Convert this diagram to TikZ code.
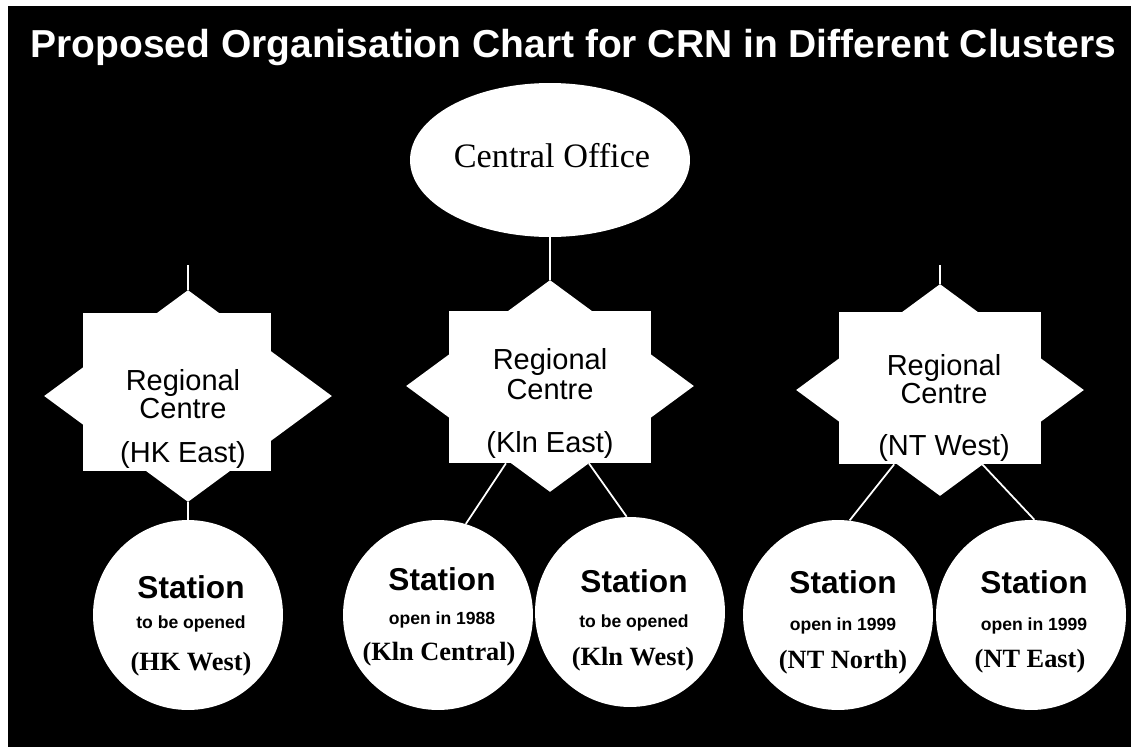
\documentclass[tikz,border=0pt]{standalone}
\usepackage{fontspec}
\setmainfont{Liberation Serif}
\setsansfont{Liberation Sans}
\usetikzlibrary{shapes.geometric}
\begin{document}
\begin{tikzpicture}[x=0.02cm,y=-0.02cm,
  title/.style={text=white,inner sep=0,anchor=base west,font=\sffamily\bfseries\fontsize{22.2}{26}\selectfont},
  office/.style={ellipse,fill=white,minimum width=5.6cm,minimum height=3.08cm,inner sep=0},
  sqbox/.style={rectangle,fill=white,minimum width=4.06cm,minimum height=3.04cm,inner sep=0},
  diabox/.style={diamond,fill=white,minimum width=5.76cm,minimum height=4.24cm,inner sep=0},
  stn/.style={circle,fill=white,minimum size=3.8cm,inner sep=0},
  link/.style={draw=white,line width=1pt},
  txt/.style={inner sep=0,anchor=base,text=black},
  officetxt/.style={txt,font=\rmfamily\fontsize{19.5}{22}\selectfont},
  regtxt/.style={txt,font=\sffamily\fontsize{16.5}{20}\selectfont},
  stbig/.style={txt,font=\sffamily\bfseries\fontsize{18}{21}\selectfont},
  stsmall/.style={txt,font=\sffamily\bfseries\fontsize{10}{12}\selectfont},
  stname/.style={txt,font=\rmfamily\bfseries\fontsize{15}{18}\selectfont}]
\useasboundingbox (0,0) rectangle (1131,747);
\fill[white] (0,0) rectangle (1131,747);
\fill[black] (8,6) rectangle (1131,747);

\node[title] (title) at (30,57) {Proposed Organisation Chart for CRN in Different Clusters};

% central office
\node[office] (co) at (550,160) {};
\node[officetxt] (cot) at (552,167) {Central Office};

% regional centres
\node[diabox] (hd) at (188,396) {};
\node[sqbox,minimum width=3.76cm,minimum height=3.18cm] (hs) at (177,392) {};
\node[diabox] (kd) at (550,386) {};
\node[sqbox] (ks) at (550,387) {};
\node[diabox] (nd) at (940,390) {};
\node[sqbox] (ns) at (940,388) {};

\node[regtxt] (ht1) at (183,390) {Regional};
\node[regtxt] (ht2) at (183,418) {Centre};
\node[regtxt] (ht3) at (183,462) {(HK East)};
\node[regtxt] (kt1) at (550,369) {Regional};
\node[regtxt] (kt2) at (550,399) {Centre};
\node[regtxt] (kt3) at (550,452) {(Kln East)};
\node[regtxt] (nt1) at (944,375) {Regional};
\node[regtxt] (nt2) at (944,403) {Centre};
\node[regtxt] (nt3) at (944,455) {(NT West)};

% stations
\node[stn] (hw) at (188,615) {};
\node[stn] (kc) at (438,615) {};
\node[stn] (kw) at (630,612) {};
\node[stn] (nn) at (838,615) {};
\node[stn] (ne) at (1031,615) {};

\node[stbig] (hw1) at (191,598) {Station};
\node[stsmall] (hw2) at (191,628) {to be opened};
\node[stname] (hw3) at (191,670) {(HK West)};
\node[stbig] (kc1) at (442,590) {Station};
\node[stsmall] (kc2) at (442,624) {open in 1988};
\node[stname] (kc3) at (439,660) {(Kln Central)};
\node[stbig] (kw1) at (634,592) {Station};
\node[stsmall] (kw2) at (634,627) {to be opened};
\node[stname] (kw3) at (633,665) {(Kln West)};
\node[stbig] (nn1) at (843,593) {Station};
\node[stsmall] (nn2) at (843,630) {open in 1999};
\node[stname] (nn3) at (843,668) {(NT North)};
\node[stbig] (ne1) at (1034,593) {Station};
\node[stsmall] (ne2) at (1034,630) {open in 1999};
\node[stname] (ne3) at (1030,667) {(NT East)};

% connectors
\coordinate (hup) at (188,265);
\coordinate (nup) at (940,265);
\draw[link] (co.south) -- (kd.north);
\draw[link] (hup) -- (hd.north);
\draw[link] (nup) -- (nd.north);
\draw[link] (hd.south) -- (hw.north);
\draw[link] (ks.-120) -- (kc.73);
\draw[link] (ks.-63) -- (kw.92);
\draw[link] (ns.-121) -- (nn.83);
\draw[link] (ns.-61) -- (ne.88);
\end{tikzpicture}
\end{document}
